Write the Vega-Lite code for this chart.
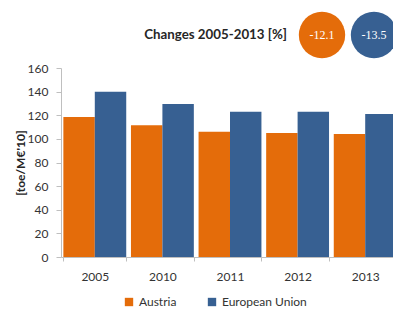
{
  "$schema": "https://vega.github.io/schema/vega-lite/v6.json",
  "background": "white",
  "padding": {"left": 14, "top": 8, "right": 0, "bottom": 0},
  "config": {
    "view": {"stroke": null},
    "font": "Lato",
    "axis": {"domainColor": "#bfbfbf", "tickColor": "#bfbfbf", "labelColor": "#333333", "labelFontSize": 12, "labelFont": "Lato"}
  },
  "spacing": 6,
  "bounds": "flush",
  "vconcat": [
    {
      "width": 338,
      "height": 54,
      "layer": [
        {
          "data": {"values": [{"label": "Changes 2005-2013 [%]"}]},
          "mark": {"type": "text", "align": "right", "baseline": "middle", "fontWeight": "bold", "fontSize": 13.3, "dx": -9, "color": "#262626", "font": "Lato"},
          "encoding": {
            "x": {"field": "label", "type": "nominal", "bandPosition": 1,
              "scale": {"type": "band", "domain": ["Changes 2005-2013 [%]", "Austria", "European Union"], "paddingInner": 0, "paddingOuter": 0, "range": [183, 339]},
              "axis": null},
            "text": {"field": "label", "type": "nominal"}
          }
        },
        {
          "data": {"values": [
            {"series": "Austria", "change": -12.1},
            {"series": "European Union", "change": -13.5}
          ]},
          "layer": [
            {
              "mark": {"type": "point", "filled": true, "shape": "circle", "size": 2150, "opacity": 1},
              "encoding": {
                "x": {"field": "series", "type": "nominal",
                  "scale": {"type": "band", "domain": ["Changes 2005-2013 [%]", "Austria", "European Union"], "paddingInner": 0, "paddingOuter": 0, "range": [183, 339]},
                  "axis": null},
                "color": {"field": "series", "type": "nominal",
                  "scale": {"domain": ["Austria", "European Union"], "range": ["#E46C0A", "#376092"]},
                  "legend": {"orient": "none", "legendX": 62, "legendY": 288, "direction": "horizontal", "title": null, "symbolType": "square", "symbolSize": 70, "labelFontSize": 12, "labelColor": "#333333", "columnPadding": 29, "labelFont": "Lato"}}
              }
            },
            {
              "mark": {"type": "text", "color": "white", "fontSize": 12, "font": "Liberation Serif", "baseline": "middle"},
              "encoding": {
                "x": {"field": "series", "type": "nominal",
                  "scale": {"type": "band", "domain": ["Changes 2005-2013 [%]", "Austria", "European Union"], "paddingInner": 0, "paddingOuter": 0, "range": [183, 339]},
                  "axis": null},
                "text": {"field": "change", "type": "nominal"}
              }
            }
          ]
        }
      ]
    },
    {
      "width": 338,
      "height": 189,
      "data": {"values": [
        {"year": "2005", "series": "Austria", "value": 118.6},
        {"year": "2005", "series": "European Union", "value": 140.0},
        {"year": "2010", "series": "Austria", "value": 111.5},
        {"year": "2010", "series": "European Union", "value": 129.5},
        {"year": "2011", "series": "Austria", "value": 106.0},
        {"year": "2011", "series": "European Union", "value": 123.0},
        {"year": "2012", "series": "Austria", "value": 105.0},
        {"year": "2012", "series": "European Union", "value": 123.0},
        {"year": "2013", "series": "Austria", "value": 104.2},
        {"year": "2013", "series": "European Union", "value": 121.1}
      ]},
      "mark": {"type": "bar"},
      "encoding": {
        "x": {"field": "year", "type": "nominal",
          "scale": {"paddingInner": 0.07, "paddingOuter": 0.035},
          "axis": {"title": null, "labelAngle": 0, "tickBand": "extent", "tickSize": 4, "labelPadding": 10}},
        "xOffset": {"field": "series", "type": "nominal", "scale": {"domain": ["Austria", "European Union"], "paddingInner": 0, "paddingOuter": 0}},
        "y": {"field": "value", "type": "quantitative",
          "scale": {"domain": [0, 160]},
          "axis": {"values": [0, 20, 40, 60, 80, 100, 120, 140, 160], "grid": false, "title": "[toe/M€'10]", "titleFontWeight": "bold", "titleFontSize": 12, "titleColor": "#262626", "titleFont": "Lato", "tickSize": 5, "labelPadding": 8, "titlePadding": 0}},
        "color": {"field": "series", "type": "nominal",
          "scale": {"domain": ["Austria", "European Union"], "range": ["#E46C0A", "#376092"]},
          "legend": {"orient": "none", "legendX": 62, "legendY": 288, "direction": "horizontal", "title": null, "symbolType": "square", "symbolSize": 70, "labelFontSize": 12, "labelColor": "#333333", "columnPadding": 29, "labelFont": "Lato"}}
      }
    }
  ]
}
